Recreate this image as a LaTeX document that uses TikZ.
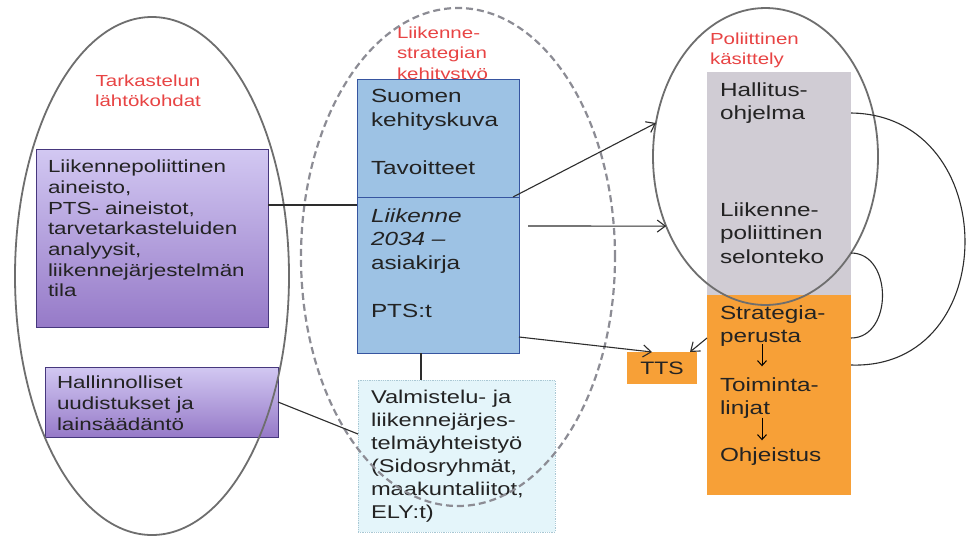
\documentclass[tikz,border=0pt]{standalone}
\usepackage{fontspec}
\setmainfont{Liberation Sans}[FakeStretch=1.28]
\usetikzlibrary{shapes.geometric,arrows.meta,calc}
\definecolor{ttitle}{RGB}{232,68,68}
\definecolor{ellgray}{RGB}{110,110,110}
\definecolor{dashgray}{RGB}{140,140,148}
\definecolor{purtop}{RGB}{210,200,242}
\definecolor{purbot}{RGB}{150,122,200}
\definecolor{purline}{RGB}{70,55,125}
\definecolor{bluefill}{RGB}{157,194,228}
\definecolor{blueline}{RGB}{55,85,160}
\definecolor{lightfill}{RGB}{228,245,250}
\definecolor{lightline}{RGB}{170,200,212}
\definecolor{grayfill}{RGB}{208,204,212}
\definecolor{orangefill}{RGB}{247,160,55}
\definecolor{txtcol}{RGB}{35,35,35}
\definecolor{conncol}{RGB}{45,45,45}
\newcommand\fsA{\fontsize{17.5}{20.7}\selectfont}
\newcommand\fsB{\fontsize{19}{23.9}\selectfont}
\newcommand\fsC{\fontsize{18.5}{23}\selectfont}
\newcommand\fsD{\fontsize{19}{23.5}\selectfont}
\newcommand\fsT{\fontsize{16}{20.5}\selectfont}
\begin{document}
\begin{tikzpicture}[x=1pt,y=-1pt,
  every node/.style={inner sep=0pt, outer sep=0pt},
  purbox/.style={rectangle, draw=purline, line width=1pt, top color=purtop, bottom color=purbot, anchor=north west},
  bluebox/.style={rectangle, draw=blueline, line width=1pt, fill=bluefill, anchor=north west},
  lightbox/.style={rectangle, draw=lightline, densely dotted, line width=0.8pt, fill=lightfill, anchor=north west},
  graybox/.style={rectangle, fill=grayfill, anchor=north west},
  orangebox/.style={rectangle, fill=orangefill, anchor=north west},
  txt/.style={text=txtcol, anchor=north west, align=left},
  titletxt/.style={text=ttitle, font=\fsT},
  ell/.style={ellipse, draw=ellgray, line width=1.8pt},
  dashell/.style={ellipse, draw=dashgray, line width=2.2pt, dash pattern=on 7pt off 4pt},
  conn/.style={draw=conncol, line width=1.1pt},
  arr/.style={conn, -{Straight Barb[length=8pt,width=12pt]}},
  smallarr/.style={draw=black, line width=1pt, -{Straight Barb[length=5pt,width=9pt]}}
]
\useasboundingbox[fill=white] (0,0) rectangle (971,539);

% titles
\node[titletxt, align=center, anchor=north] (t1) at (148,74.5) {Tarkastelun\\lähtökohdat};
\node[titletxt, align=left, anchor=north west] (t2) at (397,26.5) {Liikenne-\\strategian\\kehitystyö};
\node[titletxt, align=left, anchor=north west] (t3) at (710,32.5) {Poliittinen\\käsittely};

% boxes
\node[purbox, minimum width=232, minimum height=178] (b1) at (36,149) {};
\node[purbox, minimum width=233, minimum height=70] (b2) at (45,367) {};
\node[bluebox, minimum width=162, minimum height=118] (bt) at (357,79) {};
\node[bluebox, minimum width=162, minimum height=156] (bb) at (357,197) {};
\node[lightbox, minimum width=197, minimum height=152] (lb) at (358,380) {};
\node[graybox, minimum width=144, minimum height=223] (gb) at (707,72) {};
\node[orangebox, minimum width=144, minimum height=200] (ob) at (707,295) {};
\node[orangebox, minimum width=70, minimum height=32, text=txtcol, font=\fontsize{18}{20}\selectfont] (tts) at (627,352) {TTS};

% texts
\node[txt, font=\fsA] (b1t) at (48,160) {Liikennepoliittinen\\aineisto,\\PTS- aineistot,\\tarvetarkasteluiden\\analyysit,\\liikennejärjestelmän\\tila};
\node[txt, font=\fsA] (b2t) at (57,376) {Hallinnolliset\\uudistukset ja\\lainsäädäntö};
\node[txt, font=\fsB] (bt1) at (371,89.3) {Suomen\\kehityskuva\\[23.9pt]Tavoitteet\\[23.9pt]\textit{Liikenne}\\\textit{2034 –}\\asiakirja\\[23.9pt]PTS:t};
\node[txt, font=\fsC] (lbt) at (371,389.7) {Valmistelu- ja\\liikennejärjes-\\telmäyhteistyö\\(Sidosryhmät,\\maakuntaliitot,\\ELY:t)};
\node[txt, font=\fsD] (hal) at (720,82.3) {Hallitus-\\ohjelma};
\node[txt, font=\fsD] (sel) at (720,202.3) {Liikenne-\\poliittinen\\selonteko};
\node[txt, font=\fsD] (st) at (720,305.3) {Strategia-\\perusta};
\node[txt, font=\fsD] (toi) at (720,377.3) {Toiminta-\\linjat};
\node[txt, font=\fsD] (ohj) at (720,447.3) {Ohjeistus};

% ellipses
\node[ell, minimum width=274, minimum height=518] (le) at (152,276) {};
\node[dashell, minimum width=314, minimum height=498] (me) at (458,257) {};
\node[ell, minimum width=225, minimum height=297] (pe) at (765.5,156.5) {};

% connectors
\draw[conn] (b1.east |- 0,205) -- (bb.west |- 0,205);
\draw[conn] (b2.east) -- (lb.west |- 0,434);
\draw[conn] (bb.south -| 421,0) -- (lb.north -| 421,0);
\draw[arr] ([xshift=-6pt]bt.south east) -- (pe.163);
\draw[arr, shorten <=9pt] (bb.east |- 0,226) -- (pe.215);
\draw[arr] (bb.east |- 0,337) -- ([xshift=-10pt]tts.north);
\draw[arr] (ob.west |- 0,338) -- ([xshift=-7pt]tts.north east);
\draw[conn] (gb.east |- 0,113) .. controls (1003,115) and (1003,370) .. (ob.east |- 0,365);
\draw[conn] (gb.east |- 0,253) .. controls (893,253) and (893,338) .. (ob.east |- 0,338);
\draw[smallarr, shorten <=-2.5pt, shorten >=11pt] (st.south -| 762,0) -- (toi.north -| 762,0);
\draw[smallarr, shorten <=-1pt, shorten >=7pt] (toi.south -| 762,0) -- (ohj.north -| 762,0);
\end{tikzpicture}
\end{document}
